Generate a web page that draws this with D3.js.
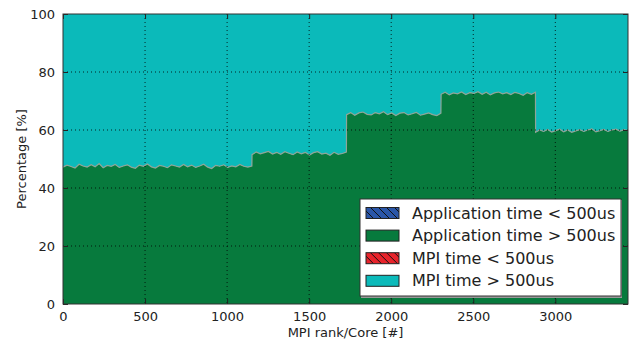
<!DOCTYPE html>
<html>
<head>
<meta charset="utf-8">
<script src="https://cdn.jsdelivr.net/npm/d3@7"></script>
<style>
  body { margin: 0; background: #fff; }
  text { font-family: "DejaVu Sans", sans-serif; fill: #222; }
</style>
</head>
<body>
<div id="chart"></div>
<script>
// series names as in the legend
var seriesNames = ["Application time < 500us", "Application time > 500us",
                   "MPI time < 500us", "MPI time > 500us"];
var seriesColors = ["#2a56a8", "#077a3d", "#e8232b", "#0bbaba"];
var hatched = [true, false, true, false];

// rank ranges of the five node groups
var segStart = [0, 1152, 1728, 2304, 2880];
var segEnd   = [1151, 1727, 2303, 2879, 3443];

// application time > 500us, percent, sampled along each group
var appLong = [
  [47.2,47.9,47.4,46.9,48.2,47.6,47.2,48.0,47.3,48.4,47.0,47.8,47.5,48.1,47.1,47.6,
   48.0,47.2,46.8,47.9,47.5,48.3,47.3,46.9,47.8,47.5,47.0,48.0,47.6,47.2,48.1,47.3,
   47.9,47.1,47.6,48.2,47.2,46.7,47.8,47.5,48.0,47.1,47.6,47.3,48.1,47.5,47.2,47.6],
  [51.5,52.4,51.8,52.2,52.6,51.7,52.3,51.6,52.5,52.0,51.5,52.4,
   51.8,52.3,51.4,52.2,52.5,51.7,52.0,51.3,52.3,51.6,51.9,52.4],
  [65.3,66.0,65.1,65.9,66.2,65.4,65.2,66.0,65.6,66.3,65.3,65.9,
   65.0,65.8,66.0,65.2,65.6,66.1,65.1,65.5,65.9,65.3,65.0,65.8],
  [72.3,73.0,72.1,72.8,72.5,73.1,72.2,72.9,72.6,73.2,72.3,73.0,
   72.1,72.8,73.1,72.5,72.9,72.2,73.0,72.6,72.0,72.9,72.3,73.0],
  [59.2,60.0,59.5,60.2,59.3,59.8,60.3,59.4,60.0,59.2,59.7,60.1,
   59.5,60.0,60.4,59.4,59.8,60.2,59.5,60.0,60.3,59.6,60.1,59.8]
];
// short phases are empty in this run (percent per group)
var appShort = [0, 0, 0, 0, 0];
var mpiShort = [0, 0, 0, 0, 0];

var xTicks = [0, 500, 1000, 1500, 2000, 2500, 3000];
var yTicks = [0, 20, 40, 60, 80, 100];

// build rows for d3.stack
var rows = [];
for (var s = 0; s < segStart.length; s++) {
    var vals = appLong[s];
    for (var i = 0; i < vals.length; i++) {
        var rank = segStart[s] + i * (segEnd[s] - segStart[s]) / (vals.length - 1);
        rows.push({
            rank: rank,
            a0: appShort[s],
            a1: vals[i],
            m0: mpiShort[s],
            m1: 100 - vals[i] - appShort[s] - mpiShort[s]
        });
    }
}

var W = 630, H = 344;
var margin = {top: 14, right: 2, bottom: 40, left: 63};
var w = W - margin.left - margin.right;
var h = H - margin.top - margin.bottom;

var x = d3.scaleLinear().domain([0, 3443]).range([0, w]);
var y = d3.scaleLinear().domain([0, 100]).range([h, 0]);

var svg = d3.select("#chart").append("svg")
    .attr("width", W).attr("height", H);

var defs = svg.append("defs");
seriesColors.forEach(function(c, k) {
    if (!hatched[k]) return;
    var p = defs.append("pattern")
        .attr("id", "hatch" + k)
        .attr("patternUnits", "userSpaceOnUse")
        .attr("width", 8).attr("height", 8);
    p.append("rect").attr("width", 8).attr("height", 8).attr("fill", c);
    p.append("path").attr("d", "M-2,-2 L10,10 M-2,6 L2,10 M6,-2 L10,2")
        .attr("stroke", "#111").attr("stroke-width", 1);
});

var g = svg.append("g")
    .attr("transform", "translate(" + margin.left + "," + margin.top + ")");

var stack = d3.stack().keys(["a0", "a1", "m0", "m1"]);
var layers = stack(rows);

var area = d3.area()
    .x(function(d) { return x(d.data.rank); })
    .y0(function(d) { return y(d[0]); })
    .y1(function(d) { return y(d[1]); });

g.selectAll(".layer")
    .data(layers)
  .enter().append("path")
    .attr("class", "layer")
    .attr("d", area)
    .attr("fill", function(d, k) { return hatched[k] ? "url(#hatch" + k + ")" : seriesColors[k]; })
    .attr("stroke", "none");

// boundary line between green and cyan
var edge = d3.line()
    .x(function(d) { return x(d.data.rank); })
    .y(function(d) { return y(d[1]); });
g.append("path")
    .datum(layers[1])
    .attr("d", edge)
    .attr("fill", "none")
    .attr("stroke", "#8fa497")
    .attr("stroke-width", 1.2);

// dotted grid
g.append("g").selectAll("line")
    .data(xTicks.slice(1))
  .enter().append("line")
    .attr("x1", function(d) { return x(d); }).attr("x2", function(d) { return x(d); })
    .attr("y1", 0).attr("y2", h)
    .attr("stroke", "#000").attr("stroke-width", 0.8).attr("stroke-dasharray", "1,3");
g.append("g").selectAll("line")
    .data(yTicks.slice(1, -1))
  .enter().append("line")
    .attr("y1", function(d) { return y(d); }).attr("y2", function(d) { return y(d); })
    .attr("x1", 0).attr("x2", w)
    .attr("stroke", "#000").attr("stroke-width", 0.8).attr("stroke-dasharray", "1,3");

// axes, ticks pointing inward on all sides
var fmt = d3.format("d");
g.append("g").attr("transform", "translate(0," + h + ")")
    .call(d3.axisBottom(x).tickValues(xTicks).tickFormat(fmt).tickSize(-5).tickPadding(8));
g.append("g")
    .call(d3.axisTop(x).tickValues(xTicks).tickSize(-5).tickFormat(""));
g.append("g")
    .call(d3.axisLeft(y).tickValues(yTicks).tickFormat(fmt).tickSize(-5).tickPadding(8));
g.append("g").attr("transform", "translate(" + w + ",0)")
    .call(d3.axisRight(y).tickValues(yTicks).tickSize(-5).tickFormat(""));

g.selectAll(".domain").remove();
g.selectAll(".tick line").attr("stroke", "#222");
g.selectAll(".tick text").style("font-size", "13px").attr("fill", "#222");

g.append("rect")
    .attr("width", w).attr("height", h)
    .attr("fill", "none").attr("stroke", "#333").attr("stroke-width", 1);

// axis labels
svg.append("text")
    .attr("x", margin.left + w / 2).attr("y", 337)
    .attr("text-anchor", "middle").style("font-size", "13px")
    .text("MPI rank/Core [#]");
svg.append("text")
    .attr("transform", "translate(26," + (margin.top + h / 2) + ") rotate(-90)")
    .attr("text-anchor", "middle").style("font-size", "13px")
    .text("Percentage [%]");

// legend
var leg = svg.append("g").attr("transform", "translate(360,199)");
leg.append("rect")
    .attr("x", 1).attr("y", 1).attr("width", 261).attr("height", 98)
    .attr("fill", "#999");
leg.append("rect")
    .attr("width", 261).attr("height", 97)
    .attr("fill", "#fff").attr("stroke", "#333").attr("stroke-width", 1);
seriesNames.forEach(function(name, k) {
    var row = leg.append("g").attr("transform", "translate(0," + (14 + k * 22.6) + ")");
    row.append("rect")
        .attr("x", 6).attr("y", -5.5).attr("width", 33).attr("height", 11)
        .attr("fill", hatched[k] ? "url(#hatch" + k + ")" : seriesColors[k])
        .attr("stroke", "#222").attr("stroke-width", 1);
    row.append("text")
        .attr("x", 52).attr("y", 0).attr("dy", "0.35em")
        .style("font-size", "16px")
        .text(name);
});
</script>
</body>
</html>
